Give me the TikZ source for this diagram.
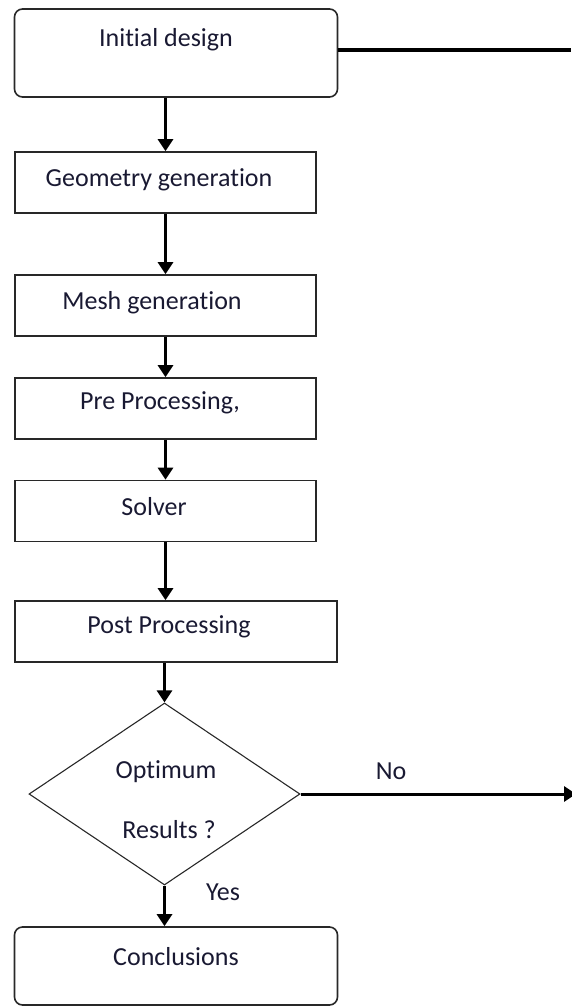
\documentclass[tikz,border=0pt]{standalone}
\usepackage{fontspec}
\setmainfont{Carlito}[Ligatures=NoCommon]
\usetikzlibrary{
    arrows.meta,
    calc,
    positioning,
    shapes.geometric
}
\definecolor{ink}{RGB}{25,25,50}
\definecolor{edge}{RGB}{40,40,40}
\tikzset{
    stepbox/.style={draw=edge, line width=1.6pt, minimum width=301pt,
        minimum height=61pt, inner sep=0pt},
    roundbox/.style={stepbox, rounded corners=8pt, minimum width=323pt},
    decision/.style={diamond, draw=edge, line width=1.1pt, minimum width=271pt,
        minimum height=182pt, inner sep=0pt},
    flow/.style={-{Triangle[length=12pt, width=15pt]}, line width=3pt},
    loopback/.style={line width=4pt},
    txt/.style={font=\fontsize{26}{30}\selectfont, text=ink, inner sep=0pt}
}

\begin{document}
\begin{tikzpicture}[x=1pt, y=-1pt]
    \useasboundingbox (0,0) rectangle (571,1007);
    % process steps
    \node[roundbox, minimum height=88pt] (init) at (176,53) {};
    \node[stepbox] (geom) at (165.5,182.5) {};
    \node[stepbox] (mesh) at (165.5,305.5) {};
    \node[stepbox] (pre) at (165.5,408.5) {};
    \node[stepbox] (solver) at (165.5,511) {};
    \node[stepbox, minimum width=322pt] (post) at (176,631.5) {};
    \node[decision] (dec) at (164.5,794) {};
    \node[roundbox, minimum height=78pt] (conc) at (176,966) {};
    % texts
    \node[txt] (initT) at (166,40) {Initial design};
    \node[txt] (geomT) at (159,180) {Geometry generation};
    \node[txt] (meshT) at (152,303) {Mesh generation};
    \node[txt] (preT) at (160,403) {Pre Processing,};
    \node[txt] (solverT) at (154,507) {Solver};
    \node[txt] (postT) at (169,627) {Post Processing};
    \node[txt] (optT) at (166,772) {Optimum};
    \node[txt] (resT) at (169,830) {Results ?};
    \node[txt] (concT) at (176,957) {Conclusions};
    \node[txt] (noT) at (391,771) {No};
    \node[txt] (yesT) at (223,892) {Yes};
    % connectors
    \coordinate (backtop) at (571,50);
    \coordinate (noend) at (576,794);
    \draw[loopback] (init.east |- backtop) -- (backtop);
    \draw[flow] (geom.north |- init.south) -- (geom.north);
    \draw[flow] (geom.south) -- (mesh.north);
    \draw[flow] (mesh.south) -- (pre.north);
    \draw[flow] (pre.south) -- (solver.north);
    \draw[flow] (solver.south) -- (solver.south |- post.north);
    \draw[flow] (dec.north |- post.south) -- (dec.north);
    \draw[flow] (dec.east) -- (noend);
    \draw[flow] (dec.south) -- (dec.south |- conc.north);
\end{tikzpicture}
\end{document}
